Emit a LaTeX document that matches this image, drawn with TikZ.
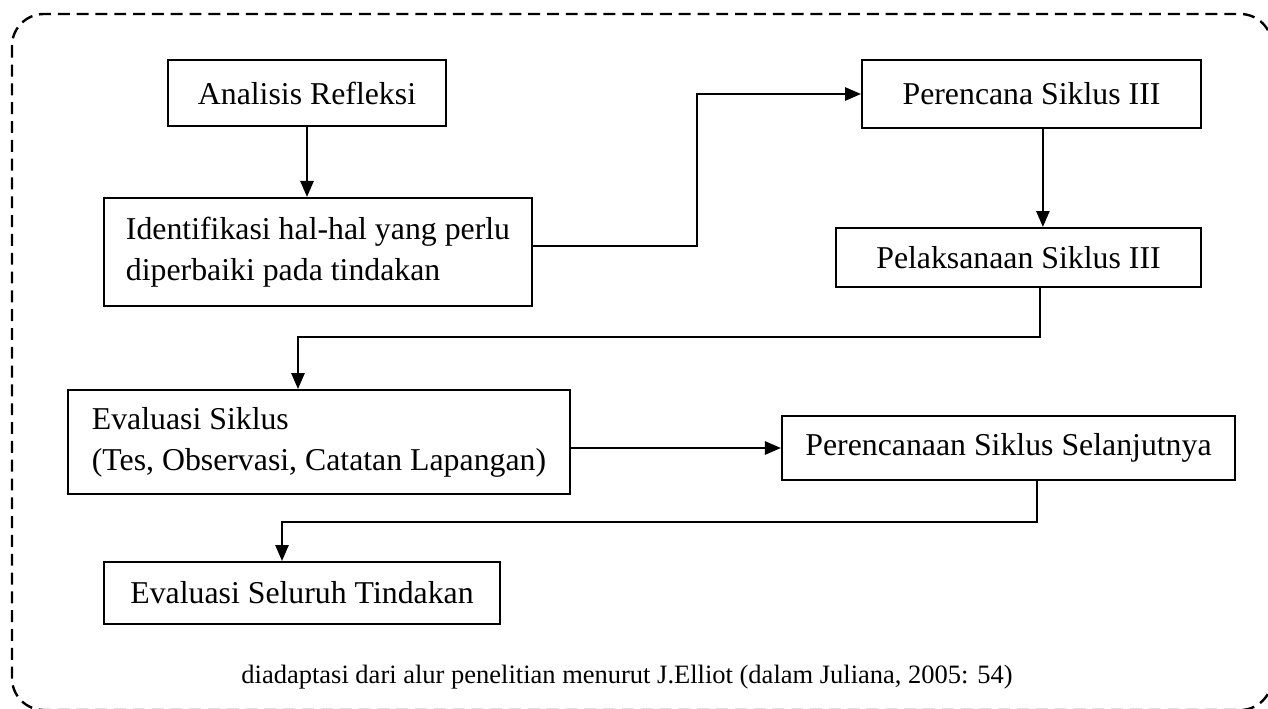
\documentclass[tikz,border=0pt]{standalone}
\usepackage{fontspec}
\setmainfont{Liberation Serif}
\usetikzlibrary{arrows.meta,positioning}

\begin{document}
\begin{tikzpicture}[x=0.3774pt,y=-0.3774pt,
  >={Triangle[length=6pt,width=5pt]},
  box/.style={draw,line width=0.8pt,inner sep=0pt,font=\fontsize{12}{15.5}\selectfont,align=center},
  leftbox/.style={box,align=left},
  conn/.style={->,line width=0.7pt}]
  \useasboundingbox (0,0) rectangle (1268,708);
  % ---- outer dashed frame ----
  \draw[line width=0.9pt,dash pattern=on 4.5pt off 2.6pt,rounded corners=12pt]
        (12,14) rectangle (1272,710);
  % ---- boxes, top half ----
  \node[box,minimum width=104.9pt,minimum height=24.9pt] (ana) at (307,93) {Analisis Refleksi};
  \node[leftbox,minimum width=161.5pt,minimum height=40.8pt] (idf) at (318,252)
        {Identifikasi hal-hal yang perlu\\diperbaiki pada tindakan};
  \node[box,minimum width=127.9pt,minimum height=25.7pt] (per) at (1031.5,94) {Perencana Siklus III};
  \node[box,minimum width=137.7pt,minimum height=22.3pt] (pel) at (1018.5,257.5) {Pelaksanaan Siklus III};
  % ---- boxes, bottom half ----
  \node[leftbox,minimum width=189.5pt,minimum height=39.2pt] (evs) at (319,442)
        {Evaluasi Siklus\\(Tes, Observasi, Catatan Lapangan)};
  \node[box,minimum width=171pt,minimum height=24.2pt] (sel) at (1008.5,448) {Perencanaan Siklus Selanjutnya};
  \node[box,minimum width=149.4pt,minimum height=23.4pt] (esl) at (302,593) {Evaluasi Seluruh Tindakan};
  \node[font=\fontsize{10}{12}\selectfont,anchor=base] (cap) at (627,683)
        {diadaptasi dari alur penelitian menurut J.Elliot (dalam Juliana, 2005: 54)};
  % ---- connectors ----
  \coordinate (k1) at (697,246);
  \coordinate (k2) at (298,337);
  \coordinate (k3) at (282,522);
  \draw[conn] (ana.south) -- (ana.south |- idf.north);
  \draw[conn] (idf.east |- k1) -- (k1) |- (per.west);
  \draw[conn] ([xshift=4.3pt]per.south) -- ([xshift=4.3pt]per.south |- pel.north);
  \draw[conn] ([xshift=8pt]pel.south) |- (k2) -- (k2 |- evs.north);
  \draw[conn] (evs.east |- sel.west) -- (sel.west);
  \draw[conn] ([xshift=10.8pt]sel.south) |- (k3) -- (k3 |- esl.north);
\end{tikzpicture}
\end{document}
